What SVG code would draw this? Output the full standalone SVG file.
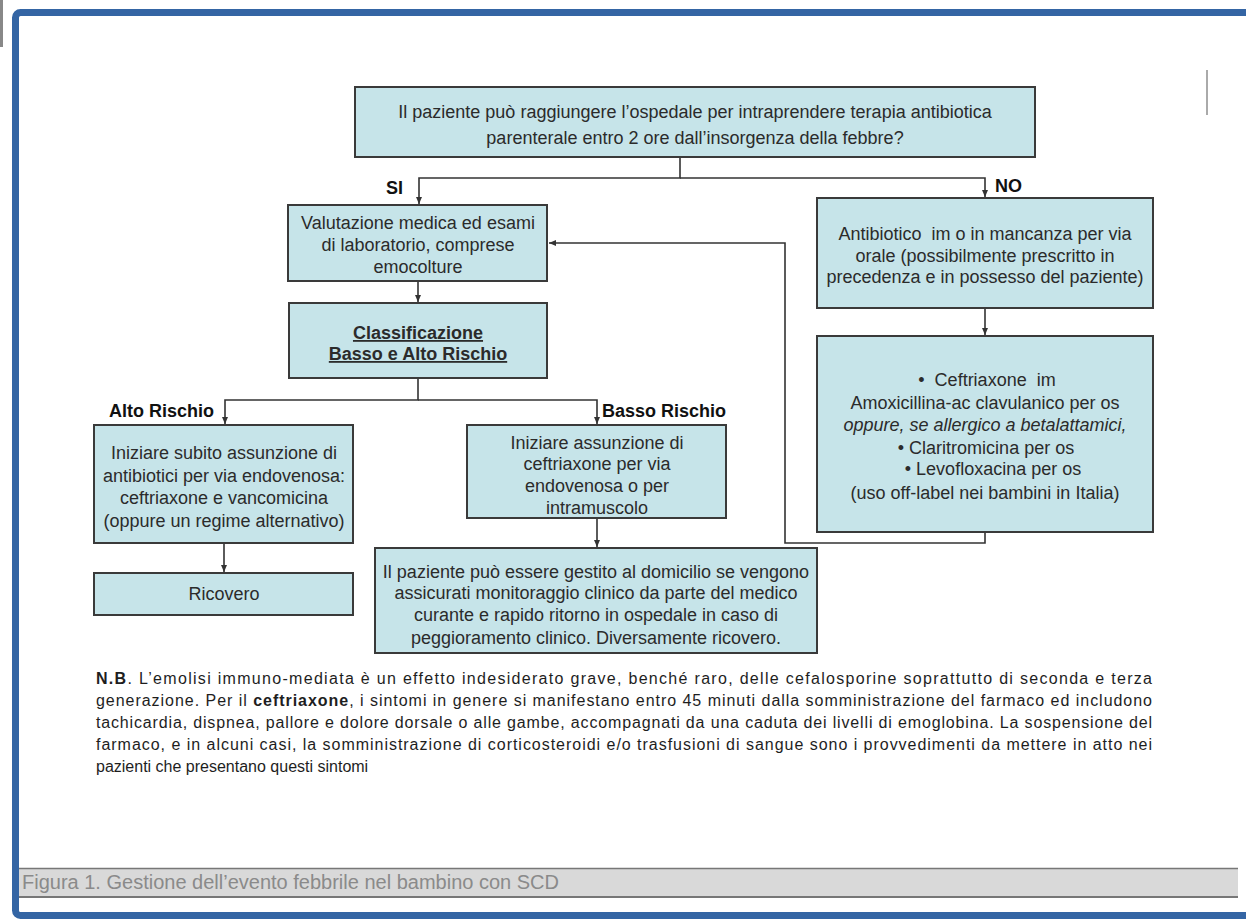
<svg xmlns="http://www.w3.org/2000/svg" width="1246" height="922" viewBox="0 0 1246 922">
<defs>
<style>
.box{fill:#c6e4e9;stroke:#3a3a3a;stroke-width:2}
.t{font-family:"Liberation Sans",Arial,sans-serif;font-size:18px;fill:#2b2b2b;text-anchor:middle}
.lbl{font-family:"Liberation Sans",Arial,sans-serif;font-size:18px;font-weight:bold;fill:#111}
.nb{font-family:"Liberation Sans",Arial,sans-serif;font-size:16px;fill:#1e1e1e}
.con{fill:none;stroke:#333;stroke-width:1.6}
</style>
<marker id="ah" markerWidth="8" markerHeight="8" refX="7" refY="4" orient="auto" markerUnits="userSpaceOnUse">
<path d="M0,1 L7,4 L0,7 z" fill="#333"/>
</marker>
</defs>
<rect x="0" y="0" width="1246" height="922" fill="#fff"/>
<rect x="0" y="0" width="3" height="47" fill="#888"/>
<rect x="15.5" y="12.5" width="1260" height="903" rx="5" fill="#fff" stroke="#3465a4" stroke-width="7"/>
<line x1="1207" y1="70" x2="1207" y2="115" stroke="#aaa" stroke-width="2"/>

<g id="connectors">
<path class="con" d="M680,157 V178 H419 V204" marker-end="url(#ah)"/>
<path class="con" d="M680,178 H985 V197" marker-end="url(#ah)"/>
<path class="con" d="M418,281 V302" marker-end="url(#ah)"/>
<path class="con" d="M418,378 V400 H225 V424" marker-end="url(#ah)"/>
<path class="con" d="M418,400 H597 V424" marker-end="url(#ah)"/>
<path class="con" d="M224,543 V572" marker-end="url(#ah)"/>
<path class="con" d="M597,518 V547" marker-end="url(#ah)"/>
<path class="con" d="M985,308 V335" marker-end="url(#ah)"/>
<path class="con" d="M985,532 V543 H785 V243 H549" marker-end="url(#ah)"/>
<text class="lbl" x="386" y="194">SI</text>
<text class="lbl" x="995" y="192">NO</text>
<text class="lbl" x="109" y="417">Alto Rischio</text>
<text class="lbl" x="602" y="417">Basso Rischio</text>
</g>

<g id="n_top">
<rect class="box" x="355" y="87" width="680" height="70"/>
<text class="t" x="695" y="118">Il paziente può raggiungere l’ospedale per intraprendere terapia antibiotica</text>
<text class="t" x="695" y="144">parenterale entro 2 ore dall’insorgenza della febbre?</text>
</g>

<g id="n_valutazione">
<rect class="box" x="288" y="205" width="259" height="76"/>
<text class="t" x="418" y="229">Valutazione medica ed esami</text>
<text class="t" x="418" y="251">di laboratorio, comprese</text>
<text class="t" x="418" y="273">emocolture</text>
</g>

<g id="n_classificazione">
<rect class="box" x="289" y="303" width="258" height="75"/>
<text class="t" x="418" y="339" font-weight="bold" text-decoration="underline">Classificazione</text>
<text class="t" x="418" y="360" font-weight="bold" text-decoration="underline">Basso e Alto Rischio</text>
</g>

<g id="n_alto">
<rect class="box" x="94" y="425" width="259" height="118"/>
<text class="t" x="224" y="459">Iniziare subito assunzione di</text>
<text class="t" x="224" y="482">antibiotici per via endovenosa:</text>
<text class="t" x="224" y="504">ceftriaxone e vancomicina</text>
<text class="t" x="224" y="527">(oppure un regime alternativo)</text>
</g>

<g id="n_ricovero">
<rect class="box" x="94" y="573" width="259" height="42"/>
<text class="t" x="224" y="600">Ricovero</text>
</g>

<g id="n_basso">
<rect class="box" x="467" y="425" width="259" height="93"/>
<text class="t" x="597" y="449">Iniziare assunzione di</text>
<text class="t" x="597" y="470">ceftriaxone per via</text>
<text class="t" x="597" y="492">endovenosa o per</text>
<text class="t" x="597" y="514">intramuscolo</text>
</g>

<g id="n_domicilio">
<rect class="box" x="375" y="548" width="442" height="105"/>
<text class="t" x="596" y="578">Il paziente può essere gestito al domicilio se vengono</text>
<text class="t" x="596" y="599">assicurati monitoraggio clinico da parte del medico</text>
<text class="t" x="596" y="621">curante e rapido ritorno in ospedale in caso di</text>
<text class="t" x="596" y="644">peggioramento clinico. Diversamente ricovero.</text>
</g>

<g id="n_antibiotico">
<rect class="box" x="817" y="198" width="336" height="110"/>
<text class="t" x="985" y="240" xml:space="preserve">Antibiotico  im o in mancanza per via</text>
<text class="t" x="985" y="262">orale (possibilmente prescritto in</text>
<text class="t" x="985" y="283">precedenza e in possesso del paziente)</text>
</g>

<g id="n_ceftriaxone">
<rect class="box" x="817" y="336" width="336" height="196"/>
<text class="t" x="987" y="386" xml:space="preserve">•  Ceftriaxone  im</text>
<text class="t" x="985" y="409">Amoxicillina-ac clavulanico per os</text>
<text class="t" x="985" y="431" font-style="italic">oppure, se allergico a betalattamici,</text>
<text class="t" x="986" y="454">• Claritromicina per os</text>
<text class="t" x="993" y="475">• Levofloxacina per os</text>
<text class="t" x="985" y="499">(uso off-label nei bambini in Italia)</text>
</g>

<g id="nota">
<text class="nb" x="96" y="684" textLength="1056" lengthAdjust="spacing"><tspan font-weight="bold">N.B</tspan>. L’emolisi immuno-mediata è un effetto indesiderato grave, benché raro, delle cefalosporine soprattutto di seconda e terza</text>
<text class="nb" x="96" y="706" textLength="1056" lengthAdjust="spacing">generazione. Per il <tspan font-weight="bold">ceftriaxone</tspan>, i sintomi in genere si manifestano entro 45 minuti dalla somministrazione del farmaco ed includono</text>
<text class="nb" x="96" y="728" textLength="1056" lengthAdjust="spacing">tachicardia, dispnea, pallore e dolore dorsale o alle gambe, accompagnati da una caduta dei livelli di emoglobina. La sospensione del</text>
<text class="nb" x="96" y="750" textLength="1056" lengthAdjust="spacing">farmaco, e in alcuni casi, la somministrazione di corticosteroidi e/o trasfusioni di sangue sono i provvedimenti da mettere in atto nei</text>
<text class="nb" x="96" y="772">pazienti che presentano questi sintomi</text>
</g>

<g id="caption">
<rect x="19" y="868" width="1219" height="29" fill="#d9d9d9"/>
<line x1="19" y1="868.5" x2="1238" y2="868.5" stroke="#777" stroke-width="1.5"/>
<line x1="19" y1="897" x2="1238" y2="897" stroke="#777" stroke-width="2"/>
<text x="22" y="889" font-family="'Liberation Sans',Arial,sans-serif" font-size="20" fill="#8a8a8a">Figura 1. Gestione dell’evento febbrile nel bambino con SCD</text>
</g>
</svg>
